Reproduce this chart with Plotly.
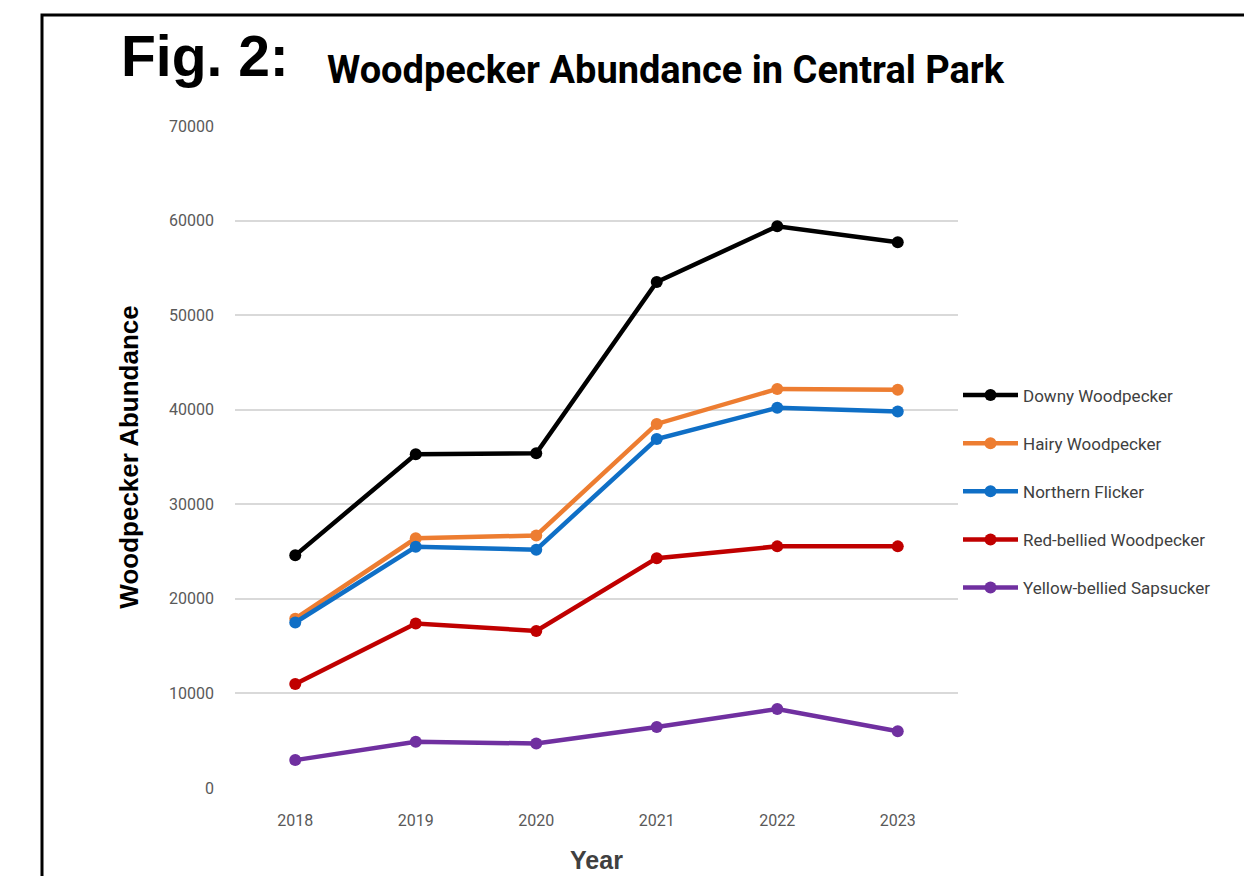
import plotly.graph_objects as go

years = ["2018", "2019", "2020", "2021", "2022", "2023"]
downy = [24600, 35300, 35400, 53500, 59400, 57700]
hairy = [17900, 26400, 26700, 38500, 42200, 42100]
northern = [17500, 25500, 25200, 36900, 40200, 39800]
red_bellied = [11000, 17400, 16600, 24300, 25550, 25550]
sapsucker = [2950, 4900, 4700, 6450, 8350, 6000]

series_names = ["Downy Woodpecker", "Hairy Woodpecker", "Northern Flicker",
                "Red-bellied Woodpecker", "Yellow-bellied Sapsucker"]
series_values = [downy, hairy, northern, red_bellied, sapsucker]
colors = ["#000000", "#ED7D31", "#0F6FC6", "#C00000", "#7030A0"]

NARROW = "Liberation Sans Narrow, Arial Narrow, Roboto, sans-serif"

fig = go.Figure()
for name, vals, col in zip(series_names, series_values, colors):
    fig.add_trace(go.Scatter(
        x=years, y=vals, name=name, mode="lines+markers",
        legendgroup=name,
        line=dict(color=col, width=4.5),
        marker=dict(color=col, size=12),
    ))

fig.update_layout(
    width=1244, height=876,
    margin=dict(l=235, r=286, t=126, b=88, autoexpand=False),
    paper_bgcolor="white", plot_bgcolor="white",
    showlegend=True,
    legend=dict(
        x=1.0, y=0.62, xanchor="left", yanchor="top",
        font=dict(family=NARROW, size=17, color="#404040"),
        itemwidth=55, tracegroupgap=23, bgcolor="rgba(0,0,0,0)",
    ),
    xaxis=dict(
        type="category", range=[-0.5, 5.5],
        showgrid=False, showline=False, zeroline=False, ticks="",
        tickfont=dict(family=NARROW, size=16, color="#595959"),
        ticklabelstandoff=21,
        title=dict(text="<b>Year</b>", font=dict(family="Liberation Sans, Arial", size=25, color="#404040"), standoff=22),
    ),
    yaxis=dict(
        range=[0, 70000], dtick=10000, tickformat="d",
        showgrid=True, gridcolor="#D9D9D9", gridwidth=1.5,
        showline=False, zeroline=False, ticks="",
        tickfont=dict(family=NARROW, size=16, color="#595959"),
        ticklabelstandoff=20,
        title=dict(text="<b>Woodpecker Abundance</b>", font=dict(family="Liberation Sans, Arial", size=26, color="#000000"), standoff=22),
    ),
    shapes=[dict(
        type="rect", xref="paper", yref="paper",
        x0=(42 - 235) / 723, x1=2.0, y0=-1.0, y1=1 + (126 - 15) / 662,
        line=dict(color="black", width=3), fillcolor="rgba(0,0,0,0)",
    )],
    annotations=[
        dict(text="<b>Fig. 2:</b>", xref="paper", yref="paper",
             x=(119 - 235) / 723, y=1 + (126 - 56) / 662, xanchor="left", yanchor="middle",
             showarrow=False, font=dict(family="Liberation Sans, Arial", size=57, color="black")),
        dict(text="<b>Woodpecker Abundance in Central Park</b>", xref="paper", yref="paper",
             x=(325 - 235) / 723, y=1 + (126 - 70) / 662, xanchor="left", yanchor="middle",
             showarrow=False, font=dict(family=NARROW, size=38, color="black")),
    ],
)

fig.write_html("out.html")
